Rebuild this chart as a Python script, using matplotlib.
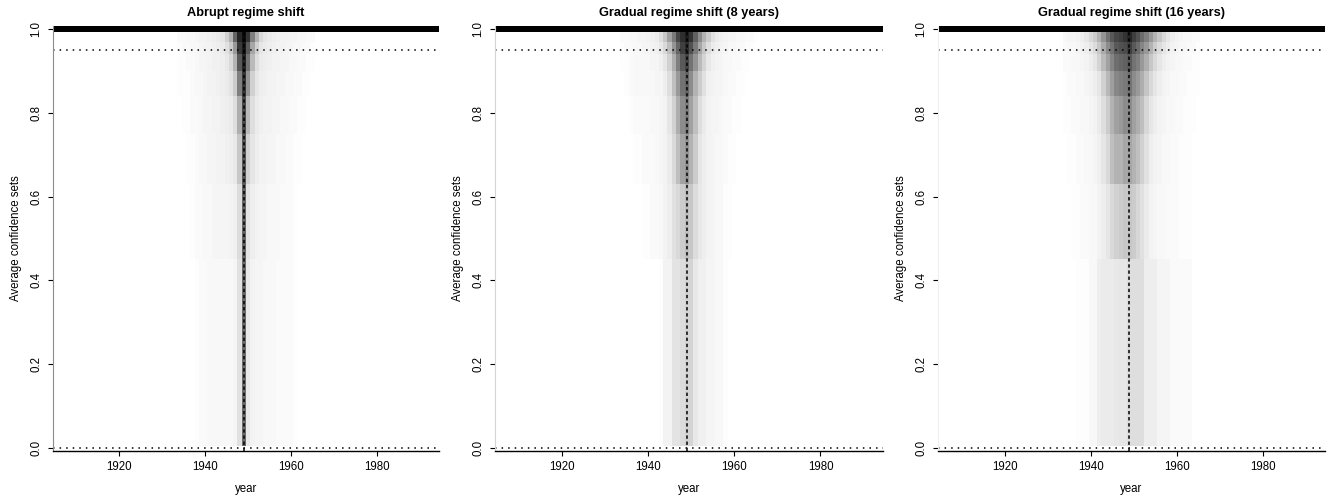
import numpy as np
import matplotlib
matplotlib.use("Agg")
import matplotlib.pyplot as plt

plt.rcParams['font.family'] = ['Liberation Sans', 'DejaVu Sans']

# share of simulations (in %) whose confidence set holds a given year
years = np.arange(1905, 1995)
first_year = 1934          # first column of the tables below (1934..1965)
shift_year = 1949
# level bands of the rows, bottom to top
level_edges = [0.005, 0.45, 0.63, 0.75, 0.84, 0.9, 0.94, 0.97, 0.993, 1.007]

abrupt_rows = [
    [0,0,0,0,1,2,2,3,3,3,3,3,3,4,12,58,9,5,4,4,3,3,3,2,2,2,2,1,0,0,0,0],
    [0,0,0,1,2,2,3,3,4,4,4,4,5,6,14,60,11,7,5,4,4,3,3,3,2,2,2,1,0,0,0,0],
    [0,0,1,1,2,3,3,4,4,5,5,6,7,9,22,65,18,10,7,5,5,4,4,3,3,2,2,1,1,0,0,0],
    [0,1,1,2,2,3,4,4,5,5,6,7,8,13,32,70,27,13,8,6,5,5,4,4,3,3,2,2,1,1,0,0],
    [1,1,1,2,3,3,4,5,5,6,7,8,11,20,50,78,42,18,10,7,6,5,5,4,4,3,3,2,2,1,1,0],
    [1,1,2,2,3,4,4,5,6,6,7,9,15,30,65,85,55,27,13,8,7,6,5,5,4,4,3,3,2,2,1,1],
    [1,2,2,3,3,4,5,5,6,7,8,12,20,40,78,90,65,35,18,10,8,7,6,5,5,4,4,3,3,2,2,1],
    [2,2,3,3,4,5,5,6,7,8,10,18,30,60,85,95,80,50,30,15,10,8,7,6,5,5,4,4,3,3,2,2],
]

grad8_rows = [
    [0,0,0,0,0,0,0,0,0,1,5,5,11,11,14,17,17,9,6,6,4,4,3,3,1,0,0,0,0,0,0,0],
    [0,0,0,0,0,1,1,2,2,3,5,7,12,15,20,25,22,14,9,7,5,4,3,3,1,1,0,0,0,0,0,0],
    [0,0,0,1,1,2,2,2,3,4,5,8,15,25,36,42,30,20,10,7,5,4,3,3,2,1,1,0,0,0,0,0],
    [0,0,1,2,2,2,2,3,3,4,5,10,18,32,45,50,37,25,13,8,5,4,4,3,2,2,1,1,0,0,0,0],
    [0,1,2,3,3,3,3,3,4,4,7,13,25,40,55,60,45,30,20,12,6,5,4,4,3,2,2,1,1,0,0,0],
    [1,1,2,3,3,3,3,4,4,6,10,18,32,50,65,72,55,42,27,17,9,6,5,4,3,3,2,2,1,1,0,0],
    [1,2,2,3,3,4,4,5,6,9,15,25,42,60,75,82,68,52,35,22,13,8,6,5,4,3,3,2,2,1,1,0],
    [2,2,3,3,4,4,5,6,8,13,22,37,52,72,82,88,80,62,45,30,20,12,8,6,5,4,4,3,3,2,2,1],
]

grad16_rows = [
    [0,0,0,1,1,1,3,3,7,8,8,8,9,10,10,13,13,13,13,7,7,7,4,4,4,2,2,2,2,2,0,0],
    [0,0,1,1,2,2,3,3,5,7,10,15,18,20,22,22,20,16,12,8,5,4,3,3,2,2,2,1,1,1,0,0],
    [0,1,1,2,2,3,3,4,6,10,15,25,30,30,35,35,30,25,18,12,7,5,4,3,3,2,2,1,1,1,0,0],
    [1,1,2,2,3,3,4,5,8,13,20,30,37,40,45,45,37,32,25,16,10,7,5,4,3,3,2,2,1,1,1,0],
    [1,2,2,3,3,4,5,7,10,18,28,38,47,50,52,55,45,40,32,23,15,10,7,5,4,3,3,2,2,1,1,1],
    [2,2,3,3,4,5,7,10,17,27,37,48,57,60,62,65,55,50,40,32,22,15,10,7,5,4,3,3,2,2,1,1],
    [2,3,3,4,5,7,10,14,22,33,45,55,65,68,70,75,65,58,48,40,30,20,14,10,7,5,4,3,3,2,2,1],
    [3,4,4,5,7,10,15,20,30,42,55,65,72,75,80,85,75,68,58,50,40,30,22,15,10,7,5,4,3,3,2,2],
]

titles = ["Abrupt regime shift", "Gradual regime shift (8 years)",
          "Gradual regime shift (16 years)"]
panels = [abrupt_rows, grad8_rows, grad16_rows]


def build_grid(rows):
    grid = np.zeros((len(level_edges) - 1, len(years)))
    start = first_year - years[0]
    for i, r in enumerate(rows):
        grid[i, start:start + len(r)] = np.array(r) / 100.0
    # at level 1 every year is inside the set
    grid[-1, :] = 1.0
    return grid


fig = plt.figure(figsize=(13.36, 4.97), dpi=100)
lefts = [53, 495, 938]
widths = [386, 388, 387]
spine_cols = ["#8c8c8c", "#d4d4d4", "#efefef"]
W, H = 1336.0, 497.0
x_edges = np.append(years - 0.5, years[-1] + 0.5)
dots = (0, (1, 3.3))

for k in range(3):
    ax = fig.add_axes([lefts[k] / W, 1 - 451 / H, widths[k] / W, 425 / H])
    ax.pcolormesh(x_edges, level_edges, build_grid(panels[k]),
                  cmap="gray_r", vmin=0, vmax=1, shading="flat")
    ax.axhline(0.95, color="black", lw=1.1, linestyle=dots)
    ax.axhline(0.0, color="black", lw=1.1, linestyle=dots)
    ax.axvline(shift_year, color="black", lw=1.1, linestyle=(0, (2.2, 1.8)))
    ax.set_xlim(years[0] - 0.5, years[-1] + 0.5)
    ax.set_ylim(-0.007, 1.007)
    ax.set_xticks([1920, 1940, 1960, 1980])
    ax.set_yticks([0, 0.2, 0.4, 0.6, 0.8, 1.0])
    ax.set_yticklabels(["0.0", "0.2", "0.4", "0.6", "0.8", "1.0"],
                       rotation=90, va="center")
    ax.tick_params(labelsize=8.3, length=3.5, width=0.8, pad=4)
    ax.tick_params(axis="y", pad=4)
    for s in ["top", "right"]:
        ax.spines[s].set_visible(False)
    ax.spines["left"].set_color(spine_cols[k])
    ax.spines["left"].set_linewidth(0.8)
    ax.spines["bottom"].set_linewidth(1.0)
    ax.set_title(titles[k], fontsize=9.2, fontweight="bold", pad=7)
    ax.set_xlabel("year", fontsize=8.3, labelpad=7)
    ax.set_ylabel("Average confidence sets", fontsize=8.3, labelpad=6)

fig.savefig("out.png", dpi=100)
